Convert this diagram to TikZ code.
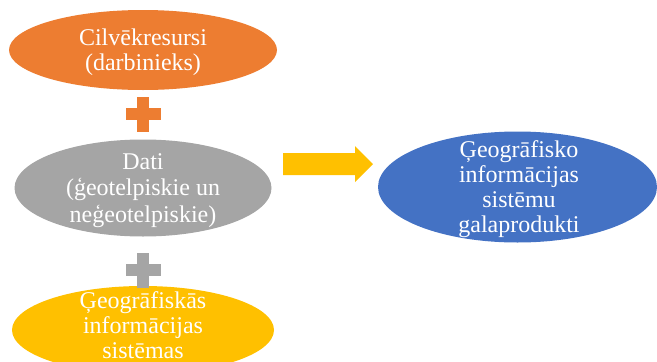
\documentclass[tikz,border=0pt]{standalone}
\usepackage{fontspec}
\setmainfont{Liberation Serif}
\usetikzlibrary{shapes.geometric}
\definecolor{cOrange}{HTML}{ED7D31}
\definecolor{cGray}{HTML}{A5A5A5}
\definecolor{cGold}{HTML}{FFC000}
\definecolor{cBlue}{HTML}{4472C4}
% centred lines whose baseline is the first line's baseline
\newcommand\mlines[1]{\begin{tabular}[t]{@{}c@{}}#1\end{tabular}}
\begin{document}
\begin{tikzpicture}[x=1pt,y=-1pt,
  blob/.style={ellipse,inner sep=0pt,draw=none},
  lbl/.style={text=white,inner sep=0pt,anchor=base,font=\fontsize{24}{#1}\selectfont},
  lbl/.default=25]
\useasboundingbox (0,0) rectangle (657,362);
% ellipses
\node[blob,fill=cOrange,minimum width=268pt,minimum height=80pt]  (res)  at (143,50)  {};
\node[blob,fill=cGray,minimum width=257pt,minimum height=97pt]    (dati) at (143,188) {};
\node[blob,fill=cGold,minimum width=262pt,minimum height=88pt]    (gis)  at (143,330) {};
\node[blob,fill=cBlue,minimum width=279pt,minimum height=111pt]   (prod) at (517.5,187) {};
% labels
\node[lbl] (tres)  at (143,45)  {\mlines{Cilvēkresursi\\(darbinieks)}};
\node[lbl=26.5] (tdati) at (143,169) {\mlines{Dati\\(ģeotelpiskie un\\neģeotelpiskie)}};
\node[lbl] (tgis)  at (143,308) {\mlines{Ģeogrāfiskās\\informācijas\\sistēmas}};
\node[lbl] (tprod) at (519,157) {\mlines{Ģeogrāfisko\\informācijas\\sistēmu\\galaprodukti}};
% plus signs between the ellipses
\coordinate (p1) at (143,114);
\coordinate (p2) at (143,270);
\foreach \p/\c in {p1/cOrange,p2/cGray}{
  \fill[\c] ([xshift=-17.5pt,yshift=6pt]\p) rectangle ([xshift=17.5pt,yshift=-6pt]\p);
  \fill[\c] ([xshift=-6pt,yshift=17.5pt]\p) rectangle ([xshift=6pt,yshift=-17.5pt]\p);
}
% block arrow from the data to the products
\coordinate (a) at (283,186);
\fill[cGold] ([yshift=11pt]a) -- ++(72,0) -- ++(0,7) -- ++(18,-18) -- ++(-18,-18) -- ++(0,7) -- ++(-72,0) -- cycle;
\end{tikzpicture}
\end{document}
